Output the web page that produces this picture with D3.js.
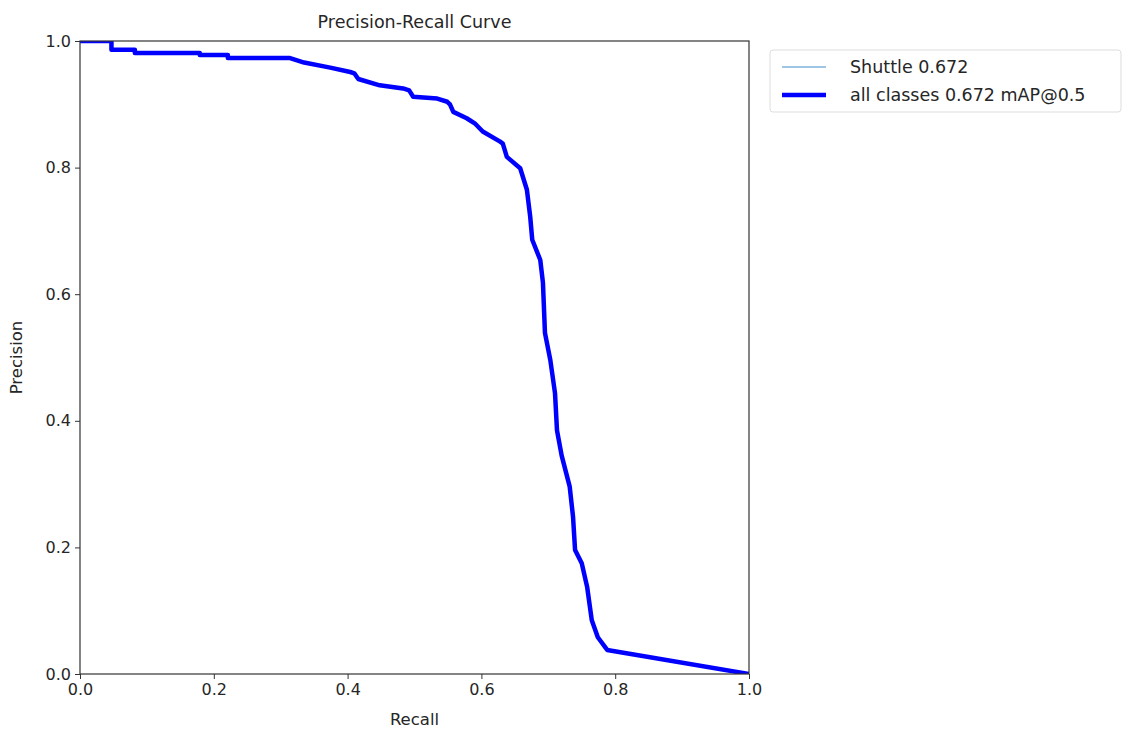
<!DOCTYPE html>
<html>
<head>
<meta charset="utf-8">
<script src="https://cdn.jsdelivr.net/npm/d3@7"></script>
<style>
  body { margin: 0; background: #fff; }
  text { font-family: "DejaVu Sans", sans-serif; fill: #262626; }
</style>
</head>
<body>
<div id="chart"></div>
<script>
// recall / precision
var recall = [0, 0.047, 0.047, 0.082, 0.082, 0.179, 0.179, 0.221, 0.221, 0.314,
    0.335, 0.374, 0.404, 0.410, 0.416, 0.448, 0.483, 0.492, 0.498, 0.534, 0.549, 0.553, 0.558,
    0.578, 0.590, 0.602, 0.628, 0.632, 0.638, 0.658, 0.668, 0.673, 0.676, 0.688, 0.692,
    0.695, 0.703, 0.710, 0.713, 0.720, 0.732, 0.737, 0.740, 0.750, 0.758,
    0.765, 0.774, 0.788, 1.0];
var precision = [1.0, 1.0, 0.986, 0.986, 0.981, 0.981, 0.978, 0.978, 0.973, 0.973,
    0.966, 0.958, 0.951, 0.949, 0.940, 0.930, 0.925, 0.922, 0.912, 0.909, 0.904, 0.900, 0.888,
    0.878, 0.870, 0.857, 0.841, 0.838, 0.817, 0.799, 0.765, 0.722, 0.686, 0.654, 0.618,
    0.539, 0.496, 0.444, 0.385, 0.345, 0.296, 0.248, 0.196, 0.175, 0.138,
    0.085, 0.058, 0.038, 0.0];
var seriesNames = ["Shuttle 0.672", "all classes 0.672 mAP@0.5"];
var ticks = [0, 0.2, 0.4, 0.6, 0.8, 1.0];

var margin = {top: 41, right: 376, bottom: 59, left: 80},
    width = 1125 - margin.left - margin.right,
    height = 733 - margin.top - margin.bottom;

var svg = d3.select("#chart").append("svg")
    .attr("width", 1125)
    .attr("height", 733);
var g = svg.append("g")
    .attr("transform", "translate(" + margin.left + "," + margin.top + ")");

var x = d3.scaleLinear().domain([0, 1]).range([0, width]);
var y = d3.scaleLinear().domain([0, 1]).range([height, 0]);

var data = recall.map(function(r, i) { return {r: r, p: precision[i]}; });

var line = d3.line()
    .x(function(d) { return x(d.r); })
    .y(function(d) { return y(d.p); });

// clip so the thick line is cut at the frame like matplotlib
g.append("clipPath").attr("id", "clip")
    .append("rect").attr("width", width).attr("height", height);

var plot = g.append("g").attr("clip-path", "url(#clip)");
plot.append("path").datum(data)
    .attr("d", line)
    .attr("fill", "none")
    .attr("stroke", "#1f77b4")
    .attr("stroke-opacity", 0.6)
    .attr("stroke-width", 1);
plot.append("path").datum(data)
    .attr("d", line)
    .attr("fill", "none")
    .attr("stroke", "#0000ff")
    .attr("stroke-width", 4.5)
    .attr("stroke-linejoin", "round");

// axes
var xAxis = g.append("g")
    .attr("transform", "translate(0," + height + ")")
    .call(d3.axisBottom(x).tickValues(ticks).tickFormat(d3.format(".1f")).tickSize(5).tickPadding(5));
var yAxis = g.append("g")
    .call(d3.axisLeft(y).tickValues(ticks).tickFormat(d3.format(".1f")).tickSize(5).tickPadding(4));
[xAxis, yAxis].forEach(function(a) {
    a.select(".domain").remove();
    a.selectAll("line").attr("stroke", "#333");
    a.selectAll("text").style("font-size", "16px").style("fill", "#262626")
        .attr("font-family", "DejaVu Sans");
});

g.append("rect")
    .attr("width", width).attr("height", height)
    .attr("fill", "none").attr("stroke", "#333").attr("stroke-width", 1.2);

// title & labels
g.append("text")
    .attr("x", width / 2).attr("y", -13)
    .attr("text-anchor", "middle")
    .style("font-size", "17.5px")
    .text("Precision-Recall Curve");
g.append("text")
    .attr("x", width / 2).attr("y", height + 51)
    .attr("text-anchor", "middle")
    .style("font-size", "16.5px")
    .text("Recall");
g.append("text")
    .attr("transform", "translate(-58," + (height / 2) + ") rotate(-90)")
    .attr("text-anchor", "middle")
    .style("font-size", "16.5px")
    .text("Precision");

// legend
var leg = svg.append("g").attr("transform", "translate(770,50)");
leg.append("rect")
    .attr("width", 351).attr("height", 62).attr("rx", 3)
    .attr("fill", "#fff").attr("stroke", "#ddd");
var legColors = ["#7fb2dd", "#0000ff"], legWidths = [1.5, 4.5];
seriesNames.forEach(function(n, i) {
    var yy = 17 + i * 28;
    leg.append("line")
        .attr("x1", 12).attr("x2", 56).attr("y1", yy).attr("y2", yy)
        .attr("stroke", legColors[i]).attr("stroke-width", legWidths[i]);
    leg.append("text")
        .attr("x", 80).attr("y", yy + 6)
        .style("font-size", "17.5px")
        .text(n);
});
</script>
</body>
</html>
